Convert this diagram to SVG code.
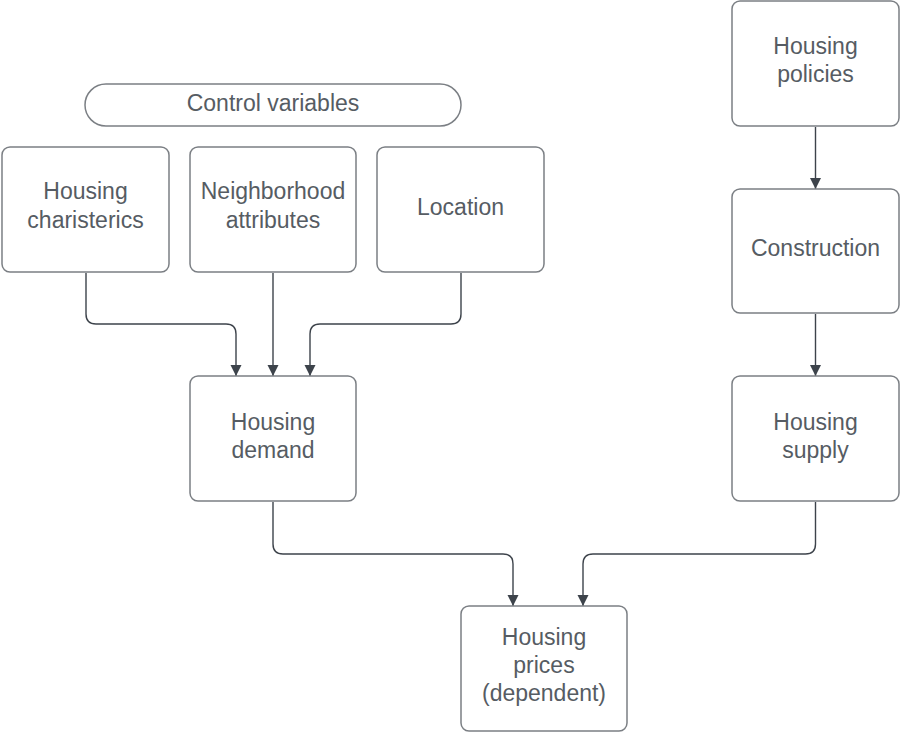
<svg xmlns="http://www.w3.org/2000/svg" width="900" height="733" viewBox="0 0 900 733">
<style>
.box{fill:#ffffff;stroke:#7b7f84;stroke-width:1.5}
.lbl{font-family:"Liberation Sans",Arial,sans-serif;font-size:23px;fill:#565c63;text-anchor:middle}
.conn{fill:none;stroke:#3d434b;stroke-width:1.4}
</style>
<defs>
<marker id="arr" markerWidth="12" markerHeight="12" viewBox="0 0 12 12" refX="11" refY="6" orient="auto" markerUnits="userSpaceOnUse">
<path d="M0,0.5 L11,6 L0,11.5 Z" fill="#3d434b"/>
</marker>
</defs>
<rect width="900" height="733" fill="#ffffff"/>
<g id="connectors">
<path class="conn" marker-end="url(#arr)" d="M86,273 V314 Q86,324 96,324 H226 Q236,324 236,334 V376"/>
<path class="conn" marker-end="url(#arr)" d="M273,273 V376"/>
<path class="conn" marker-end="url(#arr)" d="M461,273 V314 Q461,324 451,324 H320 Q310,324 310,334 V376"/>
<path class="conn" marker-end="url(#arr)" d="M273,502 V544 Q273,554 283,554 H503 Q513,554 513,564 V606"/>
<path class="conn" marker-end="url(#arr)" d="M815.5,502 V544 Q815.5,554 805.5,554 H593 Q583,554 583,564 V606"/>
<path class="conn" marker-end="url(#arr)" d="M815.5,127 V189"/>
<path class="conn" marker-end="url(#arr)" d="M815.5,314 V376"/>
</g>
<g id="control-variables">
<rect class="box" x="85" y="84" width="376" height="42" rx="21"/>
<text class="lbl" x="273" y="111">Control variables</text>
</g>
<g id="housing-charisterics">
<rect class="box" x="2" y="147" width="167" height="125" rx="8"/>
<text class="lbl" x="85.5" y="199">Housing</text>
<text class="lbl" x="85.5" y="228">charisterics</text>
</g>
<g id="neighborhood-attributes">
<rect class="box" x="190" y="147" width="166" height="125" rx="8"/>
<text class="lbl" x="273" y="199">Neighborhood</text>
<text class="lbl" x="273" y="228">attributes</text>
</g>
<g id="location">
<rect class="box" x="377" y="147" width="167" height="125" rx="8"/>
<text class="lbl" x="460.5" y="215">Location</text>
</g>
<g id="housing-demand">
<rect class="box" x="190" y="376" width="166" height="125" rx="8"/>
<text class="lbl" x="273" y="430">Housing</text>
<text class="lbl" x="273" y="458">demand</text>
</g>
<g id="housing-policies">
<rect class="box" x="732" y="1" width="167" height="125" rx="8"/>
<text class="lbl" x="815.5" y="54">Housing</text>
<text class="lbl" x="815.5" y="82">policies</text>
</g>
<g id="construction">
<rect class="box" x="732" y="189" width="167" height="124" rx="8"/>
<text class="lbl" x="815.5" y="256">Construction</text>
</g>
<g id="housing-supply">
<rect class="box" x="732" y="376" width="167" height="125" rx="8"/>
<text class="lbl" x="815.5" y="430">Housing</text>
<text class="lbl" x="815.5" y="458">supply</text>
</g>
<g id="housing-prices">
<rect class="box" x="461" y="606" width="166" height="125" rx="8"/>
<text class="lbl" x="544" y="645">Housing</text>
<text class="lbl" x="544" y="673">prices</text>
<text class="lbl" x="544" y="701">(dependent)</text>
</g>
</svg>
